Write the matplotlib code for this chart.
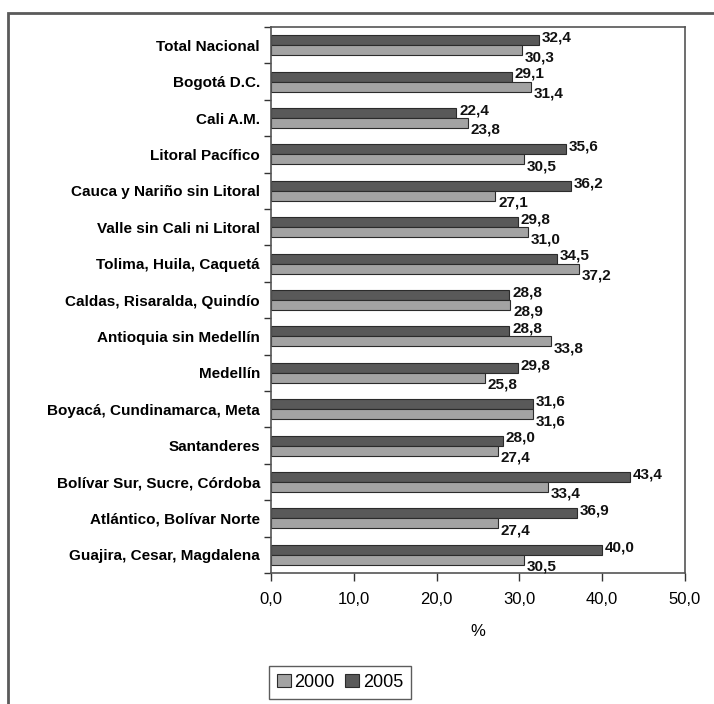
import numpy as np
import matplotlib
matplotlib.use("Agg")
import matplotlib.pyplot as plt
from matplotlib.patches import Rectangle

regions = [
    "Total Nacional",
    "Bogotá D.C.",
    "Cali A.M.",
    "Litoral Pacífico",
    "Cauca y Nariño sin Litoral",
    "Valle sin Cali ni Litoral",
    "Tolima, Huila, Caquetá",
    "Caldas, Risaralda, Quindío",
    "Antioquia sin Medellín",
    "Medellín",
    "Boyacá, Cundinamarca, Meta",
    "Santanderes",
    "Bolívar Sur, Sucre, Córdoba",
    "Atlántico, Bolívar Norte",
    "Guajira, Cesar, Magdalena",
]
vals_2000 = [30.3, 31.4, 23.8, 30.5, 27.1, 31.0, 37.2, 28.9, 33.8, 25.8, 31.6, 27.4, 33.4, 27.4, 30.5]
vals_2005 = [32.4, 29.1, 22.4, 35.6, 36.2, 29.8, 34.5, 28.8, 28.8, 29.8, 31.6, 28.0, 43.4, 36.9, 40.0]
xticks = [0, 10, 20, 30, 40, 50]

light = "#a3a3a3"
dark = "#595959"
edge = "#2b2b2b"

plt.rcParams['font.family'] = ['Liberation Sans', 'DejaVu Sans']

fig = plt.figure(figsize=(7.14, 7.04), dpi=100)
ax = fig.add_axes([271 / 714, 1 - 573 / 704, 414 / 714, 546 / 704])

n = len(regions)
y = np.arange(n)
h = 0.275
ax.barh(y - h / 2, vals_2005, height=h, color=dark, edgecolor=edge, linewidth=0.8, label="2005")
ax.barh(y + h / 2, vals_2000, height=h, color=light, edgecolor=edge, linewidth=0.8, label="2000")

fmt = lambda v: f"{v:.1f}".replace(".", ",")
for i in range(n):
    ax.annotate(fmt(vals_2005[i]), (vals_2005[i], y[i] - h / 2), xytext=(2, 2),
                textcoords="offset points", ha="left", va="center",
                fontsize=11, fontweight="bold", color="#111111")
    ax.annotate(fmt(vals_2000[i]), (vals_2000[i], y[i] + h / 2), xytext=(2, -5),
                textcoords="offset points", ha="left", va="center",
                fontsize=11, fontweight="bold", color="#111111")

ax.set_xlim(0, 50)
ax.set_ylim(n - 0.5, -0.5)
ax.set_xticks(xticks)
ax.set_xticklabels([fmt(t) for t in xticks], fontsize=12)
ax.set_yticks(y)
ax.set_yticklabels(regions, fontsize=11, fontweight="bold")
ax.set_yticks(np.arange(n + 1) - 0.5, minor=True)
ax.tick_params(axis="y", which="major", length=0, pad=8)
ax.tick_params(axis="y", which="minor", length=5, width=1, color="#333333")
ax.tick_params(axis="x", length=6, width=1, color="#333333", pad=8)
for s in ax.spines.values():
    s.set_color("#555555")
    s.set_linewidth(1.2)
ax.set_xlabel("%", fontsize=12, labelpad=12)

handles, labels = ax.get_legend_handles_labels()
leg = fig.legend(handles[::-1], labels[::-1], loc="lower left",
                 bbox_to_anchor=(269 / 714, 1 - 699 / 704), ncol=2, fontsize=13,
                 frameon=True, fancybox=False, edgecolor="#333333",
                 handlelength=0.75, handleheight=0.75, handletextpad=0.2,
                 columnspacing=0.6, borderpad=0.45, borderaxespad=0)
leg.get_frame().set_linewidth(1.0)

# outer frame of the figure, running past the right and bottom edges
fig.patches.append(Rectangle((8 / 714, -0.05), 1.0, 1 - 13 / 704 + 0.05,
                             transform=fig.transFigure, fill=False,
                             edgecolor="#5a5a5a", linewidth=2))

fig.savefig("out.png", dpi=100)
